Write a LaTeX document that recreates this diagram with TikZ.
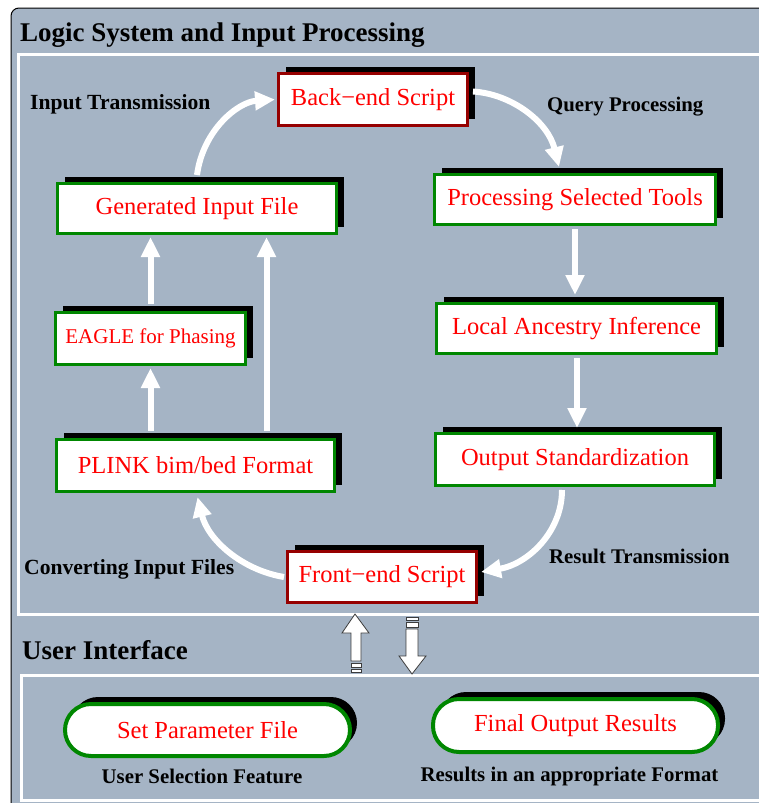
\documentclass[tikz,border=0pt]{standalone}
\usepackage{fontspec}
\setmainfont{Liberation Serif}
\usetikzlibrary{arrows.meta,shadows}
\definecolor{panel}{RGB}{165,180,197}
\definecolor{boxred}{RGB}{150,0,0}
\definecolor{boxgreen}{RGB}{0,135,0}
\definecolor{blockline}{RGB}{60,60,60}
\begin{document}
\begin{tikzpicture}[x=1pt,y=-1pt,
  boxshadow/.style={drop shadow={shadow xshift=7pt,shadow yshift=7pt,fill=black,opacity=1}},
  basebox/.style={rectangle,fill=white,text=red,inner sep=0pt,
    font=\fontsize{24.5pt}{28pt}\selectfont,boxshadow},
  greenbox/.style={basebox,draw=boxgreen,line width=3pt},
  redbox/.style={basebox,draw=boxred,line width=3pt},
  pillbox/.style={basebox,draw=boxgreen,line width=4pt,rounded corners=26pt},
  flow/.style={draw=white,line width=6pt,-{Triangle[length=20pt,width=18pt]}},
  tag/.style={font=\bfseries\fontsize{20.8pt}{24pt}\selectfont,inner sep=0pt},
  bigtag/.style={tag,font=\bfseries\fontsize{21.6pt}{24pt}\selectfont},
  heading/.style={font=\bfseries\fontsize{27pt}{30pt}\selectfont,inner sep=0pt,anchor=base west},
  frame/.style={draw=white,line width=3pt},
  blockarrow/.style={fill=white,draw=blockline,line width=0.8pt,line join=miter}]
\useasboundingbox (0,0) rectangle (759,803);
\clip (0,0) rectangle (759,803);

% background panel and the two section frames
\draw[fill=panel,draw=black,line width=1pt,rounded corners=8pt] (11,8) rectangle (800,840);
\draw[frame] (18,54) rectangle (800,614);
\draw[frame] (21,675) rectangle (800,800);

% section headings
\node[heading] (h1) at (20,41) {Logic System and Input Processing};
\node[heading] (h2) at (22,659) {User Interface};

% processing pipeline
\node[redbox,minimum width=189pt,minimum height=52pt] (back) at (373,99.5) {Back\textminus end Script};
\node[greenbox,minimum width=279pt,minimum height=50pt] (gen) at (197,208.5) {Generated Input File};
\node[greenbox,minimum width=281pt,minimum height=50pt] (proc) at (575,199.5) {Processing Selected Tools};
\node[greenbox,minimum width=280pt,minimum height=50pt] (local) at (576.5,328.5) {Local Ancestry Inference};
\node[greenbox,minimum width=190pt,minimum height=52pt,font=\fontsize{21pt}{24pt}\selectfont] (eagle) at (150.5,338.5) {EAGLE for Phasing};
\node[greenbox,minimum width=278pt,minimum height=52pt] (plink) at (195.5,465.5) {PLINK bim/bed Format};
\node[greenbox,minimum width=279pt,minimum height=52pt] (out) at (575,459.5) {Output Standardization};
\node[redbox,minimum width=189pt,minimum height=51pt] (front) at (382,577) {Front\textminus end Script};

% user interface
\node[pillbox,minimum width=285pt,minimum height=52pt] (setp) at (207.5,730) {Set Parameter File};
\node[pillbox,minimum width=285pt,minimum height=53pt] (final) at (575.5,725.5) {Final Output Results};

% connectors of the pipeline
\draw[flow] ([yshift=7pt]gen.north) .. controls (203,130) and (238,102) .. ([xshift=-2pt]back.west);
\draw[flow] ([xshift=4pt,yshift=8pt]back.east) .. controls (512,94) and (548,122) .. ([xshift=-16pt,yshift=6pt]proc.north);
\draw[flow] ([yshift=-3pt]proc.south) -- ([xshift=-1.5pt,yshift=7pt]local.north);
\draw[flow] ([xshift=0.5pt,yshift=-3pt]local.south) -- ([xshift=0.5pt,yshift=4pt]local.south |- out.north);
\draw[flow] ([xshift=-13pt,yshift=-3pt]out.south) .. controls (562,532) and (528,564) .. ([xshift=3pt,yshift=5pt]front.east);
\draw[flow] ([xshift=-2pt]front.west) .. controls (242,570) and (208,540) .. ([xshift=2pt,yshift=-4pt]plink.south);
\draw[flow] ([yshift=7pt]plink.north -| eagle.south) -- ([yshift=-2pt]eagle.south);
\draw[flow] ([yshift=7pt]eagle.north) -- ([yshift=-2pt]eagle.north |- gen.south);
\draw[flow] ([xshift=71pt,yshift=7pt]plink.north) -- ([xshift=71pt,yshift=-2pt]plink.north |- gen.south);

% transfer arrows between the two sections
\draw[blockarrow] (355,614) -- (369,633) -- (361,633) -- (361,661) -- (351,661) -- (351,633) -- (342,633) -- cycle;
\draw[blockarrow] (351,663) rectangle (361,667);
\draw[blockarrow] (351,669) rectangle (361,672);
\draw[blockarrow] (406,617) rectangle (418,620);
\draw[blockarrow] (406,622) rectangle (418,627);
\draw[blockarrow] (406,629) -- (418,629) -- (418,656) -- (426,656) -- (412,674) -- (399,656) -- (406,656) -- cycle;

% connector captions
\node[bigtag,anchor=base west] (t1) at (30,109) {Input Transmission};
\node[tag,anchor=base west] (t2) at (547,111) {Query Processing};
\node[tag,anchor=base west] (t3) at (549,563) {Result Transmission};
\node[bigtag,anchor=base west] (t4) at (24,574) {Converting Input Files};
\node[tag,anchor=base] (t5) at (202,783) {User Selection Feature};
\node[tag,anchor=base] (t6) at (569.5,781) {Results in an appropriate Format};
\end{tikzpicture}
\end{document}
